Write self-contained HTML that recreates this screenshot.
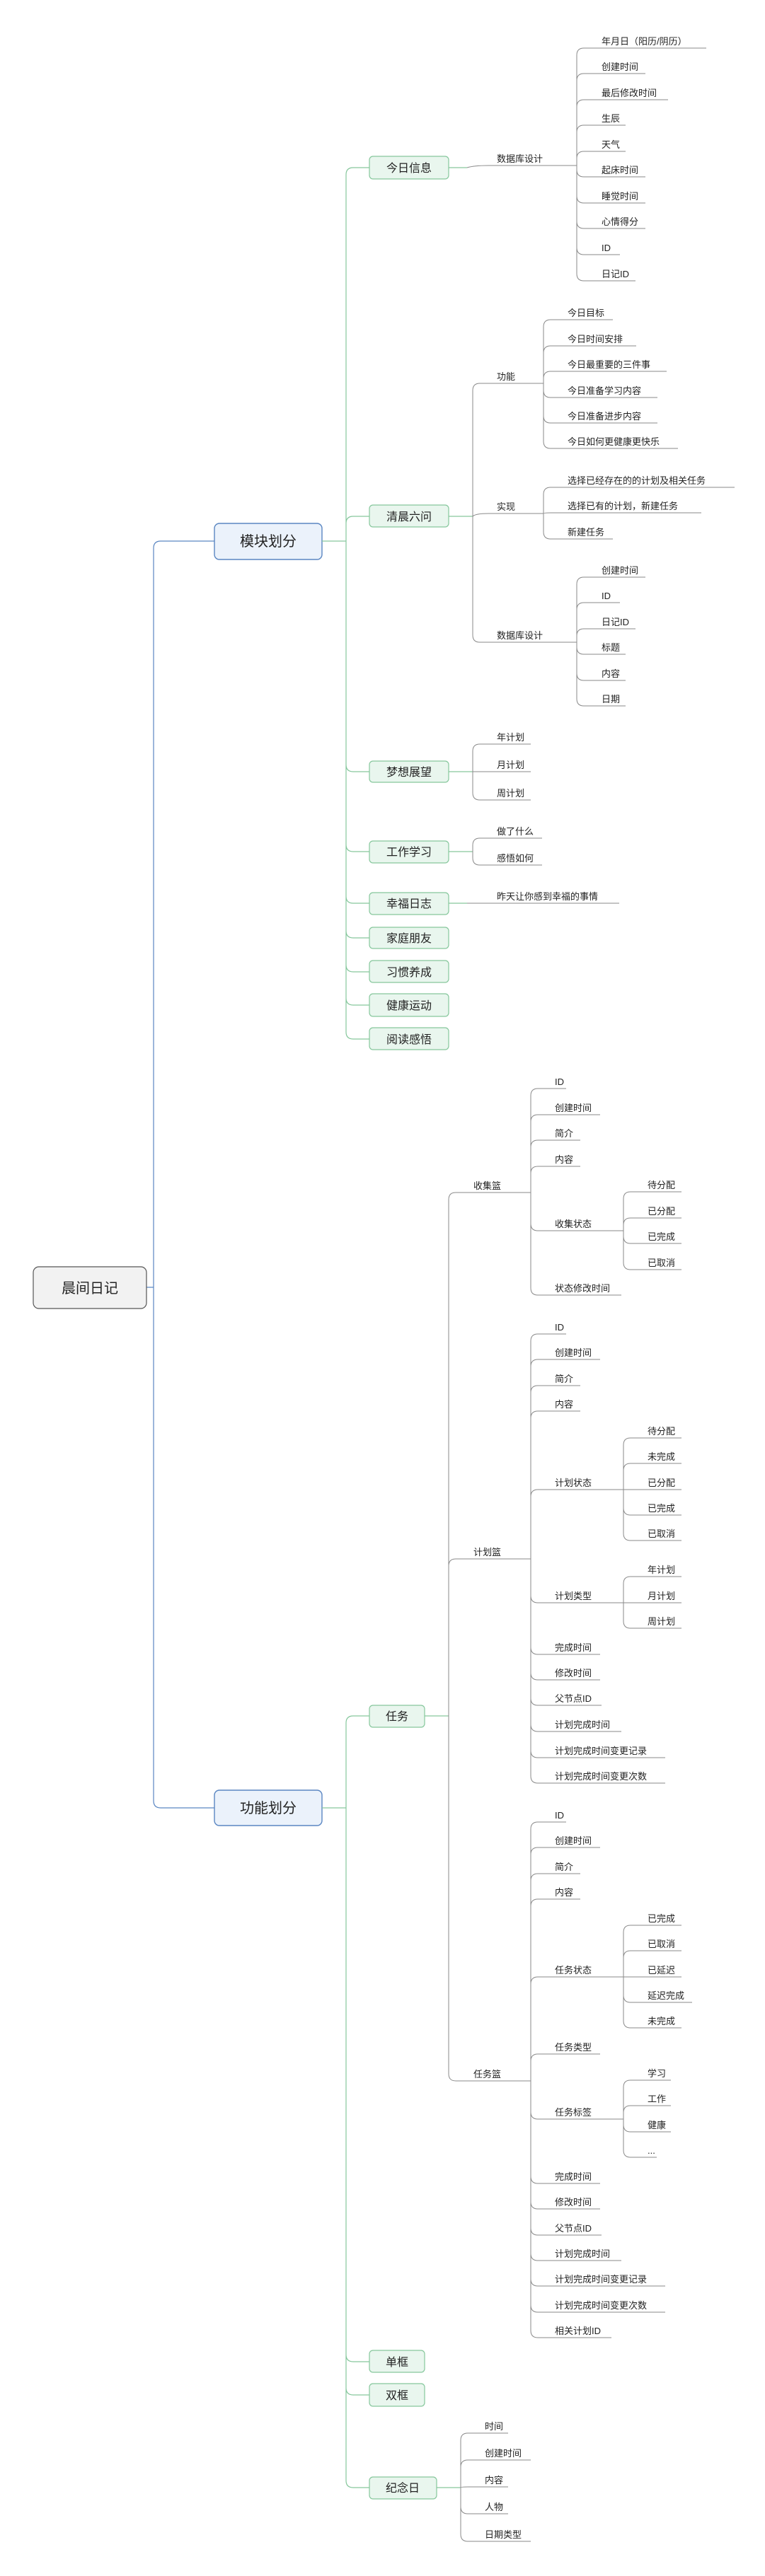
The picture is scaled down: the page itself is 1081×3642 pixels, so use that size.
<!DOCTYPE html>
<html><head><meta charset="utf-8"><style>
html,body{margin:0;padding:0;background:#fff;}
svg{display:block;}
text{font-family:"Liberation Sans","Noto Sans CJK SC",sans-serif;fill:#222;}
.l{font-size:13px;}
.b2{font-size:16px;text-anchor:middle;}
.b1{font-size:20px;text-anchor:middle;}
.g{fill:none;stroke:#8a8a8a;stroke-width:1;}
.gr{fill:none;stroke:#86c79c;stroke-width:1.2;}
.bl{fill:none;stroke:#5a86c2;stroke-width:1.2;}
.n2{fill:#e9f6ee;stroke:#86c79c;stroke-width:1.2;}
.n1{fill:#ebf2fb;stroke:#5a86c2;stroke-width:1.4;}
</style></head><body>
<svg width="1081" height="3642" viewBox="0 0 1081 3642" xmlns="http://www.w3.org/2000/svg">
<!-- root connectors -->
<path class="bl" d="M207 1820H217M217 1820V775Q217 765 227 765H303M217 1820V2546Q217 2556 227 2556H303"/>
<rect x="47" y="1791" width="160" height="59" rx="8" fill="#f2f2f2" stroke="#555" stroke-width="1.2"/>
<text class="b1" x="127" y="1828">晨间日记</text>
<rect class="n1" x="303" y="740" width="152" height="51" rx="7"/>
<text class="b1" x="379" y="772">模块划分</text>
<rect class="n1" x="303" y="2531" width="152" height="50" rx="7"/>
<text class="b1" x="379" y="2563">功能划分</text>

<!-- green level2 connectors -->
<path class="gr" d="M455 765H489M489 765V247Q489 237 499 237H522M489 765V740Q489 730 499 730H522M489 765V1081Q489 1091 499 1091H522M489 765V1194Q489 1204 499 1204H522M489 765V1267Q489 1277 499 1277H522M489 765V1316Q489 1326 499 1326H522M489 765V1364Q489 1374 499 1374H522M489 765V1411Q489 1421 499 1421H522M489 765V1459Q489 1469 499 1469H522"/>
<path class="gr" d="M455 2556H489M489 2556V2436Q489 2426 499 2426H522M489 2556V3329Q489 3339 499 3339H522M489 2556V3376Q489 3386 499 3386H522M489 2556V3507Q489 3517 499 3517H522"/>
<!-- level2 lines to children -->
<path class="gr" d="M634 237H660M634 730H668M634 1091H668M634 1204H668M634 1277H660M600 2426H634M617 3517H651"/>

<!-- level2 boxes -->
<g>
<rect class="n2" x="522" y="221" width="112" height="32" rx="5"/><text class="b2" x="578" y="243">今日信息</text>
<rect class="n2" x="522" y="714" width="112" height="31" rx="5"/><text class="b2" x="578" y="736">清晨六问</text>
<rect class="n2" x="522" y="1076" width="112" height="30" rx="5"/><text class="b2" x="578" y="1097">梦想展望</text>
<rect class="n2" x="522" y="1189" width="112" height="31" rx="5"/><text class="b2" x="578" y="1210">工作学习</text>
<rect class="n2" x="522" y="1262" width="112" height="31" rx="5"/><text class="b2" x="578" y="1283">幸福日志</text>
<rect class="n2" x="522" y="1311" width="112" height="30" rx="5"/><text class="b2" x="578" y="1332">家庭朋友</text>
<rect class="n2" x="522" y="1358" width="112" height="31" rx="5"/><text class="b2" x="578" y="1380">习惯养成</text>
<rect class="n2" x="522" y="1405" width="112" height="32" rx="5"/><text class="b2" x="578" y="1427">健康运动</text>
<rect class="n2" x="522" y="1453" width="112" height="31" rx="5"/><text class="b2" x="578" y="1475">阅读感悟</text>
<rect class="n2" x="522" y="2411" width="78" height="31" rx="5"/><text class="b2" x="561" y="2432">任务</text>
<rect class="n2" x="522" y="3323" width="78" height="31" rx="5"/><text class="b2" x="561" y="3345">单框</text>
<rect class="n2" x="522" y="3370" width="78" height="32" rx="5"/><text class="b2" x="561" y="3392">双框</text>
<rect class="n2" x="522" y="3502" width="95" height="31" rx="5"/><text class="b2" x="569" y="3523">纪念日</text>
</g>

<!-- gray connectors -->
<path class="g" d="
M660 237Q670 234 690 234H815
M815 234V78Q815 68 825 68H998
M815 234V114Q815 104 825 104H912
M815 234V151Q815 141 825 141H944
M815 234V187Q815 177 825 177H884
M815 234V224Q815 214 825 214H884
M815 234V240Q815 250 825 250H912
M815 234V277Q815 287 825 287H912
M815 234V313Q815 323 825 323H912
M815 234V350Q815 360 825 360H876
M815 234V387Q815 397 825 397H898

M668 730V552Q668 542 678 542H768
M668 730Q672 726 690 726H768
M668 730V898Q668 908 678 908H815
M768 542V462Q768 452 778 452H866
M768 542V499Q768 489 778 489H899
M768 542V535Q768 525 778 525H942
M768 542V552Q768 562 778 562H929
M768 542V588Q768 598 778 598H929
M768 542V624Q768 634 778 634H958
M768 726V699Q768 689 778 689H1038
M768 726Q768 725 778 725H991
M768 726V752Q768 762 778 762H866
M815 908V826Q815 816 825 816H912
M815 908V862Q815 852 825 852H876
M815 908V899Q815 889 825 889H898
M815 908V915Q815 925 825 925H884
M815 908V952Q815 962 825 962H884
M815 908V988Q815 998 825 998H884

M668 1091V1062Q668 1052 678 1052H750
M668 1091H750
M668 1091V1121Q668 1131 678 1131H750
M668 1204V1195Q668 1185 678 1185H766
M668 1204V1213Q668 1223 678 1223H766
M660 1277H875

M634 2426V1696Q634 1686 644 1686H750
M634 2426V2214Q634 2204 644 2204H750
M634 2426V2932Q634 2942 644 2942H750

M750 1686V1549Q750 1539 760 1539H800
M750 1686V1586Q750 1576 760 1576H848
M750 1686V1622Q750 1612 760 1612H820
M750 1686V1659Q750 1649 760 1649H820
M750 1686V1730Q750 1740 760 1740H881
M750 1686V1821Q750 1831 760 1831H878
M881 1740V1695Q881 1685 891 1685H963
M881 1740V1732Q881 1722 891 1722H963
M881 1740V1748Q881 1758 891 1758H963
M881 1740V1785Q881 1795 891 1795H963

M750 2204V1896Q750 1886 760 1886H800
M750 2204V1932Q750 1922 760 1922H848
M750 2204V1969Q750 1959 760 1959H820
M750 2204V2005Q750 1995 760 1995H820
M750 2204V2116Q750 2106 760 2106H881
M750 2204V2256Q750 2266 760 2266H881
M750 2204V2329Q750 2339 760 2339H848
M750 2204V2365Q750 2375 760 2375H848
M750 2204V2401Q750 2411 760 2411H850
M750 2204V2438Q750 2448 760 2448H878
M750 2204V2475Q750 2485 760 2485H940
M750 2204V2511Q750 2521 760 2521H940
M881 2106V2043Q881 2033 891 2033H963
M881 2106V2079Q881 2069 891 2069H963
M881 2106H963
M881 2106V2132Q881 2142 891 2142H963
M881 2106V2168Q881 2178 891 2178H963
M881 2266V2239Q881 2229 891 2229H963
M881 2266H963
M881 2266V2292Q881 2302 891 2302H963

M750 2942V2586Q750 2576 760 2576H800
M750 2942V2622Q750 2612 760 2612H848
M750 2942V2659Q750 2649 760 2649H820
M750 2942V2695Q750 2685 760 2685H820
M750 2942V2805Q750 2795 760 2795H881
M750 2942V2914Q750 2904 760 2904H848
M750 2942V2986Q750 2996 760 2996H881
M750 2942V3077Q750 3087 760 3087H848
M750 2942V3113Q750 3123 760 3123H848
M750 2942V3150Q750 3160 760 3160H850
M750 2942V3186Q750 3196 760 3196H878
M750 2942V3222Q750 3232 760 3232H940
M750 2942V3259Q750 3269 760 3269H940
M750 2942V3295Q750 3305 760 3305H864
M881 2795V2732Q881 2722 891 2722H963
M881 2795V2768Q881 2758 891 2758H963
M881 2795V2795H963
M881 2795V2821Q881 2831 891 2831H978
M881 2795V2857Q881 2867 891 2867H963
M881 2996V2951Q881 2941 891 2941H948
M881 2996V2987Q881 2977 891 2977H948
M881 2996V3004Q881 3014 891 3014H948
M881 2996V3040Q881 3050 891 3050H928

M651 3517V3450Q651 3440 661 3440H718
M651 3517V3488Q651 3478 661 3478H750
M651 3517Q651 3516 661 3516H718
M651 3517V3544Q651 3554 661 3554H718
M651 3517V3583Q651 3593 661 3593H750
"/>

<!-- labels -->
<g class="l">
<text x="702" y="229">数据库设计</text>
<text x="850" y="63">年月日（阳历/阴历）</text>
<text x="850" y="99">创建时间</text>
<text x="850" y="136">最后修改时间</text>
<text x="850" y="172">生辰</text>
<text x="850" y="209">天气</text>
<text x="850" y="245">起床时间</text>
<text x="850" y="282">睡觉时间</text>
<text x="850" y="318">心情得分</text>
<text x="850" y="355">ID</text>
<text x="850" y="392">日记ID</text>

<text x="702" y="537">功能</text>
<text x="702" y="721">实现</text>
<text x="702" y="903">数据库设计</text>
<text x="802" y="447">今日目标</text>
<text x="802" y="484">今日时间安排</text>
<text x="802" y="520">今日最重要的三件事</text>
<text x="802" y="557">今日准备学习内容</text>
<text x="802" y="593">今日准备进步内容</text>
<text x="802" y="629">今日如何更健康更快乐</text>
<text x="802" y="684">选择已经存在的的计划及相关任务</text>
<text x="802" y="720">选择已有的计划，新建任务</text>
<text x="802" y="757">新建任务</text>
<text x="850" y="811">创建时间</text>
<text x="850" y="847">ID</text>
<text x="850" y="884">日记ID</text>
<text x="850" y="920">标题</text>
<text x="850" y="957">内容</text>
<text x="850" y="993">日期</text>

<text x="702" y="1047">年计划</text>
<text x="702" y="1086">月计划</text>
<text x="702" y="1126">周计划</text>
<text x="702" y="1180">做了什么</text>
<text x="702" y="1218">感悟如何</text>
<text x="702" y="1272">昨天让你感到幸福的事情</text>

<text x="669" y="1681">收集篮</text>
<text x="784" y="1534">ID</text>
<text x="784" y="1571">创建时间</text>
<text x="784" y="1607">简介</text>
<text x="784" y="1644">内容</text>
<text x="784" y="1735">收集状态</text>
<text x="784" y="1826">状态修改时间</text>
<text x="915" y="1680">待分配</text>
<text x="915" y="1717">已分配</text>
<text x="915" y="1753">已完成</text>
<text x="915" y="1790">已取消</text>

<text x="669" y="2199">计划篮</text>
<text x="784" y="1881">ID</text>
<text x="784" y="1917">创建时间</text>
<text x="784" y="1954">简介</text>
<text x="784" y="1990">内容</text>
<text x="784" y="2101">计划状态</text>
<text x="784" y="2261">计划类型</text>
<text x="784" y="2334">完成时间</text>
<text x="784" y="2370">修改时间</text>
<text x="784" y="2406">父节点ID</text>
<text x="784" y="2443">计划完成时间</text>
<text x="784" y="2480">计划完成时间变更记录</text>
<text x="784" y="2516">计划完成时间变更次数</text>
<text x="915" y="2028">待分配</text>
<text x="915" y="2064">未完成</text>
<text x="915" y="2101">已分配</text>
<text x="915" y="2137">已完成</text>
<text x="915" y="2173">已取消</text>
<text x="915" y="2224">年计划</text>
<text x="915" y="2261">月计划</text>
<text x="915" y="2297">周计划</text>

<text x="669" y="2937">任务篮</text>
<text x="784" y="2571">ID</text>
<text x="784" y="2607">创建时间</text>
<text x="784" y="2644">简介</text>
<text x="784" y="2680">内容</text>
<text x="784" y="2790">任务状态</text>
<text x="784" y="2899">任务类型</text>
<text x="784" y="2991">任务标签</text>
<text x="784" y="3082">完成时间</text>
<text x="784" y="3118">修改时间</text>
<text x="784" y="3155">父节点ID</text>
<text x="784" y="3191">计划完成时间</text>
<text x="784" y="3227">计划完成时间变更记录</text>
<text x="784" y="3264">计划完成时间变更次数</text>
<text x="784" y="3300">相关计划ID</text>
<text x="915" y="2717">已完成</text>
<text x="915" y="2753">已取消</text>
<text x="915" y="2790">已延迟</text>
<text x="915" y="2826">延迟完成</text>
<text x="915" y="2862">未完成</text>
<text x="915" y="2936">学习</text>
<text x="915" y="2972">工作</text>
<text x="915" y="3009">健康</text>
<text x="915" y="3045">...</text>

<text x="685" y="3435">时间</text>
<text x="685" y="3473">创建时间</text>
<text x="685" y="3511">内容</text>
<text x="685" y="3549">人物</text>
<text x="685" y="3588">日期类型</text>
</g>
</svg>
</body></html>
